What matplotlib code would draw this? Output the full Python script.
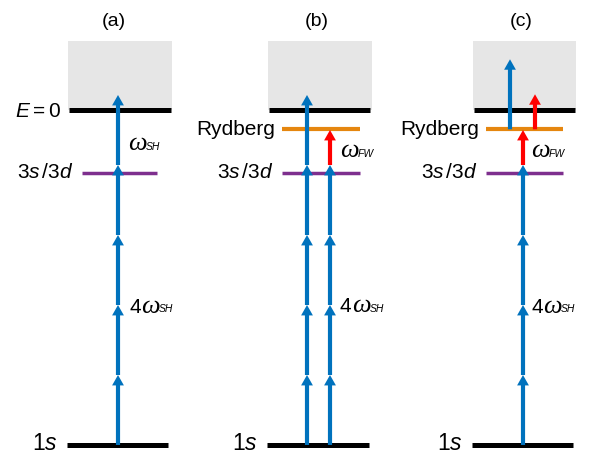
import matplotlib
matplotlib.use('Agg')
import matplotlib.pyplot as plt
from matplotlib.patches import Rectangle, FancyArrowPatch

plt.rcParams['font.family'] = ['Liberation Sans', 'DejaVu Sans']
plt.rcParams['mathtext.fontset'] = 'custom'
plt.rcParams['mathtext.rm'] = 'Liberation Sans'
plt.rcParams['mathtext.it'] = 'Liberation Sans:italic'
plt.rcParams['mathtext.bf'] = 'Liberation Sans:bold'

# ---------------- data (energies in units of omega_SH) ----------------
panel_titles = ['(a)', '(b)', '(c)']
E_1s = 0.0
E_3s3d = 3.89
E_ryd = 4.51
E_cut = 4.79          # E = 0 (ionisation threshold)
E_cont_top = 5.77     # top of shaded continuum
omega_SH = 1.0
omega_FW = 0.5
n_lower_SH = 4        # 4 omega_SH photons 1s -> 3s/3d

label_1s = r'$1s$'
label_3s3d = r'$3s\,/3d$'
label_ryd = 'Rydberg'
label_cut = r'$E=0$'
sym_omega = '\u03c9'
sub_SH = 'SH'
sub_FW = 'FW'
count_4 = '4'

# ---------------- styles ----------------
BLUE = '#0072BD'
RED = '#FF0000'
PURPLE = '#7E2F8E'
ORANGE = '#E5860F'
GRAY = '#E6E6E6'

W, H = 594, 453
Y0, K = 445.0, 70.0   # layout: pixel row of 1s, pixels per omega_SH


def py(px):
    return (Y0 - px) / K


fig = plt.figure(figsize=(W / 100, H / 100), dpi=100)
ax = fig.add_axes([0, 0, 1, 1])
ax.set_xlim(0, W)
ax.set_ylim(py(H), py(0))
ax.axis('off')


def level(x0, x1, e, color, lw):
    ax.plot([x0, x1], [e, e], color=color, lw=lw, solid_capstyle='butt', zorder=2)


def photon(x, e0, de, color):
    a = FancyArrowPatch((x, e0), (x, e0 + de),
                        arrowstyle='simple,head_length=0.75,head_width=0.85,tail_width=0.3',
                        mutation_scale=10, color=color, lw=0,
                        shrinkA=0, shrinkB=0, zorder=4)
    ax.add_patch(a)


def continuum(x0, x1):
    ax.add_patch(Rectangle((x0, E_cont_top), x1 - x0, E_cut - E_cont_top,
                           facecolor=GRAY, edgecolor='none', zorder=0))


def omega_label(x, base_px, sub, prefix=None):
    if prefix is not None:
        ax.text(x, py(base_px), prefix, ha='left', va='baseline', fontsize=15)
        x += 12
    ax.text(x, py(base_px), sym_omega, ha='left', va='baseline', fontsize=19,
            style='italic', family=['Liberation Serif', 'DejaVu Serif'])
    ax.text(x + 18, py(base_px - 0.5), sub, ha='left', va='baseline', fontsize=7.5,
            style='italic')


FS = 15
FS_T = 14

# panel layouts (x pixel positions)
panels = [
    dict(box=(68, 172), cut=(69, 171), mid=(82, 157), low=(67, 168), tx=114),
    dict(box=(268, 372), cut=(269, 370), mid=(282, 360), low=(267, 369), tx=317),
    dict(box=(473, 576), cut=(474, 575), mid=(486, 563), low=(472, 573), tx=521),
]

for i, p in enumerate(panels):
    continuum(*p['box'])
    level(*p['cut'], E_cut, 'black', 3.6)
    level(*p['low'], E_1s, 'black', 3.6)
    level(*p['mid'], E_3s3d, PURPLE, 2.5)
    if i > 0:
        level(*p['mid'], E_ryd, ORANGE, 3.0)
    ax.text(p['tx'], py(21), panel_titles[i], ha='center', va='center', fontsize=FS_T)
    ax.text(p['low'][0] - 9, E_1s + py(443) - py(445), label_1s,
            ha='right', va='center', fontsize=16.5)
    ax.text(p['mid'][0] - 8, E_3s3d, label_3s3d, ha='right', va='center', fontsize=FS)
    if i == 0:
        ax.text(p['cut'][0] - 8, E_cut + py(112) - py(110), label_cut,
                ha='right', va='center', fontsize=15)
    else:
        ax.text(p['mid'][0] - 7, E_ryd, label_ryd, ha='right', va='center', fontsize=FS)

# ---- panel (a) ----
xa = 118
for k in range(n_lower_SH):
    photon(xa, E_1s + k * omega_SH, omega_SH, BLUE)
photon(xa, E_1s + n_lower_SH * omega_SH, omega_SH, BLUE)
omega_label(128, 150, sub_SH)
omega_label(129, 313, sub_SH, prefix=count_4)

# ---- panel (b) ----
xb1, xb2 = 307, 330
for k in range(n_lower_SH + 1):
    photon(xb1, E_1s + k * omega_SH, omega_SH, BLUE)
for k in range(n_lower_SH):
    photon(xb2, E_1s + k * omega_SH, omega_SH, BLUE)
photon(xb2, E_1s + n_lower_SH * omega_SH, omega_FW, RED)
omega_label(340, 157, sub_FW)
omega_label(340, 312, sub_SH, prefix=count_4)

# ---- panel (c) ----
xc, xc_b, xc_r = 523, 510, 535
for k in range(n_lower_SH):
    photon(xc, E_1s + k * omega_SH, omega_SH, BLUE)
photon(xc, E_1s + n_lower_SH * omega_SH, omega_FW, RED)
photon(xc_b, E_ryd, omega_SH, BLUE)
photon(xc_r, E_ryd, omega_FW, RED)
omega_label(531, 157, sub_FW)
omega_label(531, 313, sub_SH, prefix=count_4)

fig.savefig('out.png', dpi=100)
